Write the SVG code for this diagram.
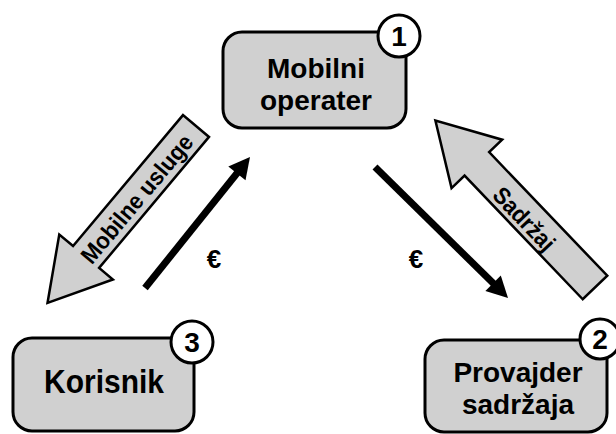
<svg xmlns="http://www.w3.org/2000/svg" width="616" height="434" viewBox="0 0 616 434">
<style>
.box{fill:#d0d0d0;stroke:#000;stroke-width:3}
.num{fill:#fff;stroke:#000;stroke-width:3}
.lbl{font-family:"Liberation Sans",Arial,sans-serif;font-weight:bold;fill:#000;text-anchor:middle}
.big{font-size:28px}
.dig{font-size:28px}
.garrow{fill:#d0d0d0;stroke:#000;stroke-width:2.5;stroke-linejoin:miter}
.alab{font-size:22px}
.eur{font-size:26px}
.bl{stroke:#000;stroke-width:7;fill:none}
</style>
<rect width="616" height="434" fill="#fff"/>
<g id="connectors">
  <g id="mobilne-usluge">
    <polygon class="garrow" transform="translate(196,126) rotate(130)" points="0,-17 171,-17 171,-35 231,0 171,35 171,17 0,17"/>
    <text class="lbl alab" transform="translate(137,199) rotate(-50) scale(1,1.08)" x="0" y="7.5">Mobilne usluge</text>
  </g>
  <g id="sadrzaj">
    <polygon class="garrow" transform="translate(595,287.5) rotate(-133.7)" points="0,-17 171,-17 171,-35 231,0 171,35 171,17 0,17"/>
    <text class="lbl alab" transform="translate(524,219) rotate(46.3) scale(1,1.08)" x="0" y="7.5">Sadržaj</text>
  </g>
  <g id="euro-left">
    <line class="bl" x1="145" y1="288" x2="238" y2="172"/>
    <polygon points="250,157 245.5,180.3 228.3,166.5" fill="#000"/>
    <text class="lbl eur" x="214" y="268">€</text>
  </g>
  <g id="euro-right">
    <line class="bl" x1="375" y1="167" x2="494" y2="284"/>
    <polygon points="508,298 485.4,291.1 500.8,275.5" fill="#000"/>
    <text class="lbl eur" x="416" y="268">€</text>
  </g>
</g>
<g id="node1">
  <rect class="box" x="223" y="32" width="183" height="96" rx="19"/>
  <circle class="num" cx="399" cy="36" r="21"/>
  <text class="lbl dig" x="399" y="46">1</text>
  <text class="lbl big" x="316" y="78">Mobilni</text>
  <text class="lbl big" x="316" y="110">operater</text>
</g>
<g id="node3">
  <rect class="box" x="13" y="338" width="181" height="93" rx="19"/>
  <circle class="num" cx="192" cy="342" r="21"/>
  <text class="lbl dig" x="192" y="352">3</text>
  <text class="lbl big" transform="translate(104,393) scale(1,1.12)" style="font-size:30px">Korisnik</text>
</g>
<g id="node2">
  <rect class="box" x="425" y="340" width="182" height="92" rx="19"/>
  <circle class="num" cx="600" cy="339" r="20"/>
  <text class="lbl dig" x="600" y="349">2</text>
  <text class="lbl big" x="518" y="382">Provajder</text>
  <text class="lbl big" x="518" y="414">sadržaja</text>
</g>
</svg>
